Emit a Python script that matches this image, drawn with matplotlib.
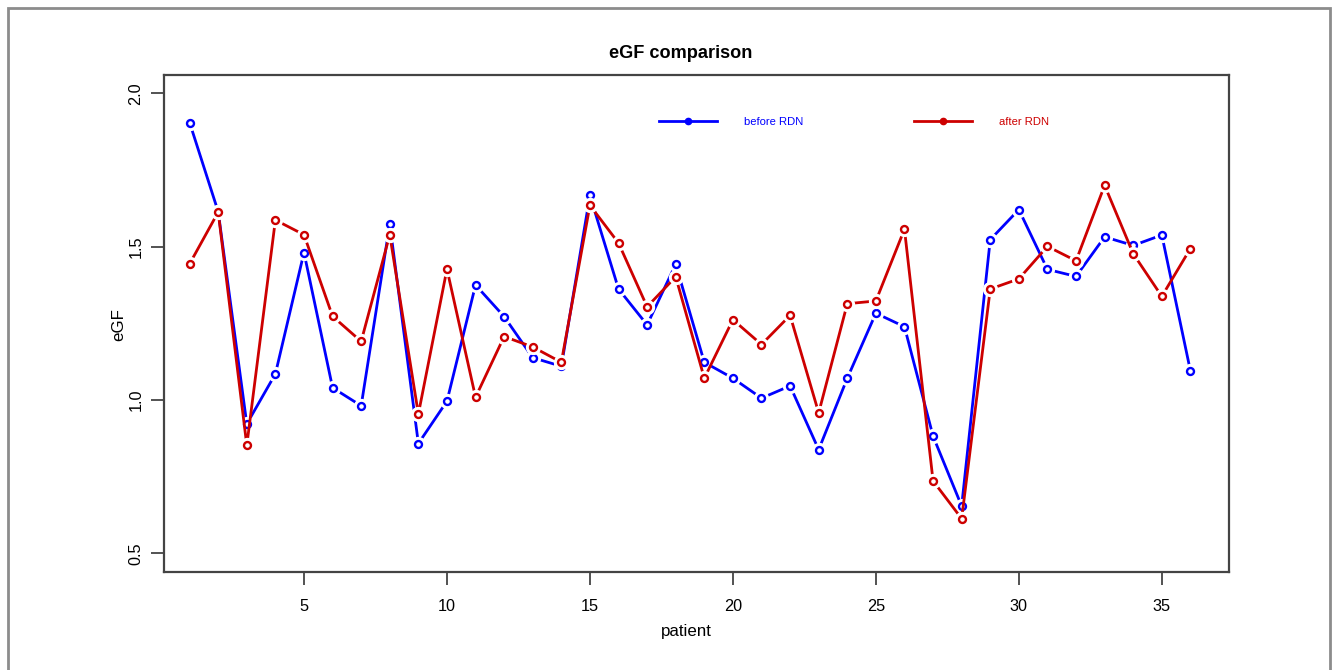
import matplotlib
matplotlib.use("Agg")
import matplotlib.pyplot as plt
from matplotlib import font_manager
from matplotlib.lines import Line2D
from matplotlib.patches import Rectangle
import numpy as np

# eGF per patient, before / after renal denervation
patient = np.arange(1, 37)
before_rdn = [1.905, 1.614, 0.922, 1.085, 1.481, 1.040, 0.981, 1.574, 0.858, 0.996,
              1.375, 1.272, 1.138, 1.110, 1.667, 1.362, 1.245, 1.443, 1.123, 1.071,
              1.006, 1.046, 0.838, 1.071, 1.283, 1.239, 0.882, 0.654, 1.523, 1.621,
              1.426, 1.403, 1.532, 1.504, 1.538, 1.095]
after_rdn = [1.444, 1.613, 0.852, 1.587, 1.539, 1.273, 1.191, 1.539, 0.954, 1.427,
             1.009, 1.207, 1.173, 1.123, 1.635, 1.512, 1.304, 1.402, 1.071, 1.262,
             1.181, 1.276, 0.958, 1.314, 1.323, 1.557, 0.736, 0.613, 1.362, 1.395,
             1.501, 1.454, 1.700, 1.477, 1.338, 1.494]
xticks = [5, 10, 15, 20, 25, 30, 35]
yticks = [0.5, 1.0, 1.5, 2.0]

BLUE = "#0000FF"
RED = "#CD0000"
GREY = "#444444"

# the original uses a narrow Arial-like face; use one if there is any
names = {f.name for f in font_manager.fontManager.ttflist}
narrow = [n for n in ['Liberation Sans Narrow', 'Arial Narrow', 'DejaVu Sans Condensed'] if n in names]
if narrow:
    plt.rcParams['font.family'] = [narrow[0], 'DejaVu Sans']
    k = 1.0
else:
    plt.rcParams['font.family'] = ['Liberation Sans', 'DejaVu Sans']
    k = 0.9

fig = plt.figure(figsize=(13.33, 6.70), dpi=100)
ax = fig.add_axes([164.3/1333, 1 - 572.3/670, 1065/1333, 497.6/670])

z = 2
for vals, col in [(before_rdn, BLUE), (after_rdn, RED)]:
    # R type="b": line broken around each open circle
    ax.plot(patient, vals, color=col, lw=2.0, zorder=z)
    ax.plot(patient, vals, ls='none', marker='o', ms=11, mfc='white', mec='none', zorder=z + 1)
    ax.plot(patient, vals, ls='none', marker='o', ms=5, mfc='white', mec=col, mew=1.7, zorder=z + 2)
    z += 3

ax.set_xlim(0.115, 37.36)
ax.set_ylim(0.438, 2.061)
ax.set_xticks(xticks)
ax.set_yticks(yticks)
ax.set_yticklabels([f"{v:.1f}" for v in yticks], rotation=90, va='center')
ax.tick_params(direction='out', length=9.5, width=1.3, color=GREY, labelsize=13 * k)
ax.tick_params(axis='x', pad=9.5)
ax.tick_params(axis='y', pad=5.5)
for s in ax.spines.values():
    s.set_color(GREY)
    s.set_linewidth(1.6)

ax.set_xlabel("patient", fontsize=13.5 * k)
ax.xaxis.set_label_coords(0.49, -0.104)
ax.set_ylabel("eGF", fontsize=13.5 * k)
ax.yaxis.set_label_coords(-0.036, 0.497)
ax.set_title("eGF comparison", fontsize=14.5 * k, fontweight='bold', x=0.485, pad=12)

fs = 9 * k
handles = [Line2D([], [], color=BLUE, lw=2, marker='o', ms=4.5),
           Line2D([], [], color=RED, lw=2, marker='o', ms=4.5)]
leg = ax.legend(handles, ["before RDN", "after RDN"], ncol=2, frameon=False,
                loc='center left', bbox_to_anchor=(0.455, 0.905), fontsize=fs,
                handlelength=58 / (fs * 100 / 72), handletextpad=27 / (fs * 100 / 72),
                columnspacing=(115 - (66 * k - 55)) / (fs * 100 / 72) if not narrow else 115 / (fs * 100 / 72),
                labelcolor=[BLUE, RED])

# outer frame of the image
fig.patches.append(Rectangle((8/1333, -0.02), 1322/1333, 1 - 8/670 + 0.02,
                             transform=fig.transFigure, fill=False,
                             edgecolor="#8c8c8c", lw=2))

fig.savefig("out.png", dpi=100)
